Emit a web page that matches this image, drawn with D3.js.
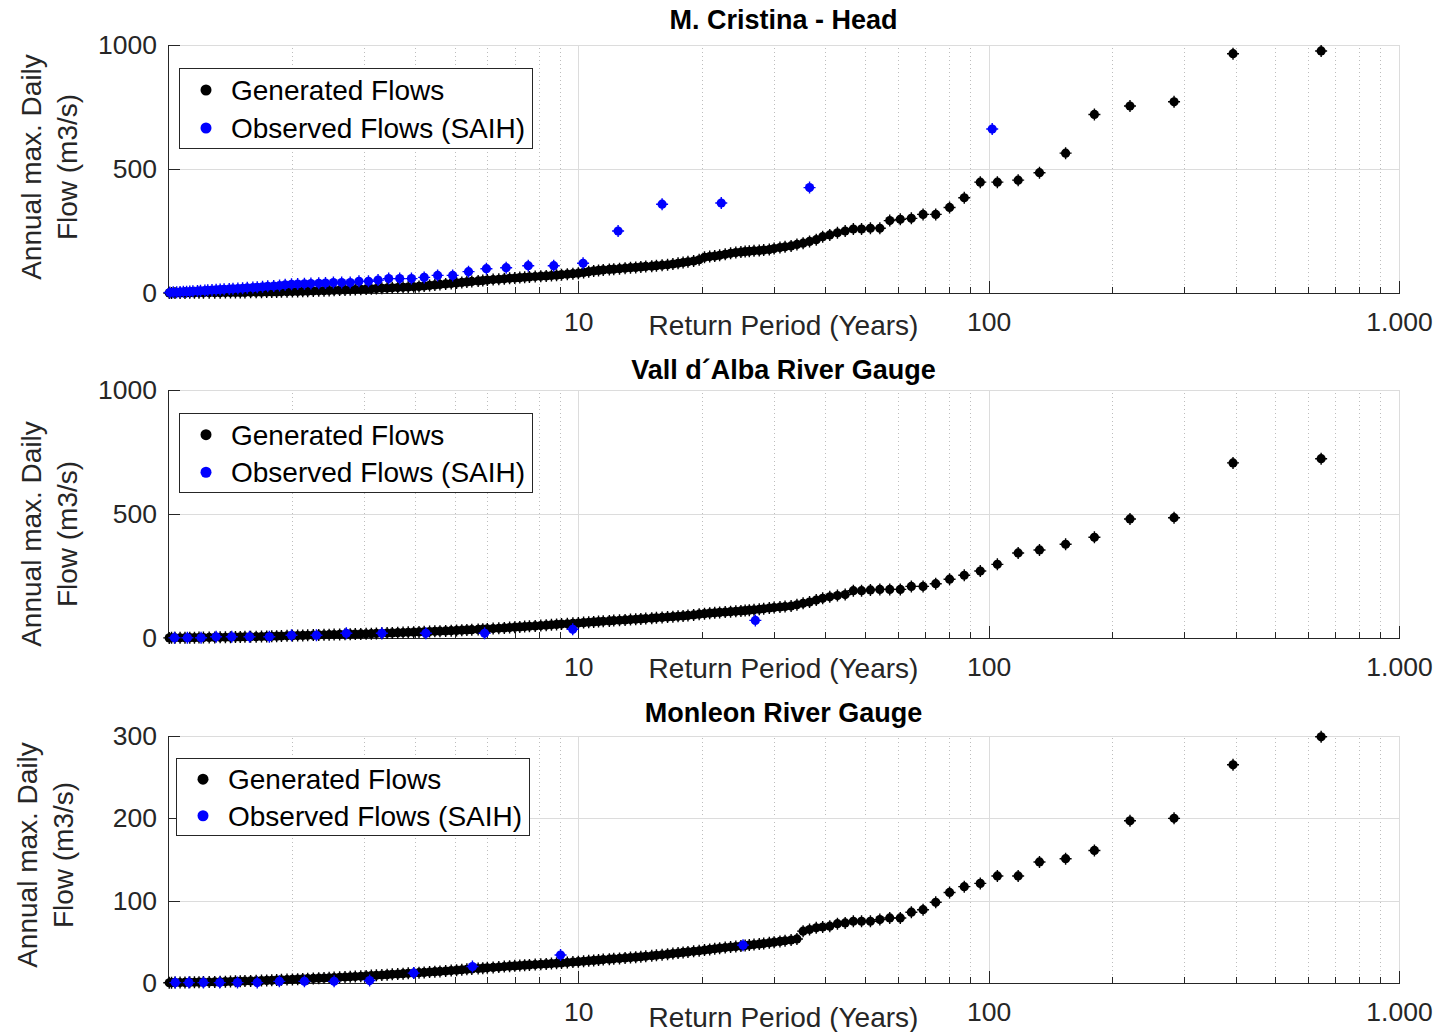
<!DOCTYPE html>
<html>
<head>
<meta charset="utf-8">
<script src="https://cdn.jsdelivr.net/npm/d3@7"></script>
<style>
  body { margin: 0; background: #fff; }
  svg { display: block; }
</style>
</head>
<body>
<div id="chart"></div>
<script>
// Périodes de retour (années) des débits générés, communes aux trois stations
const returnPeriod = [
  1.007, 1.02, 1.04, 1.07, 1.1, 1.13, 1.16, 1.19, 1.22, 1.26,
  1.3, 1.34, 1.38, 1.42, 1.46, 1.5, 1.54, 1.59, 1.64, 1.69,
  1.74, 1.79, 1.84, 1.89, 1.95, 2.01, 2.07, 2.13, 2.19, 2.26,
  2.33, 2.4, 2.47, 2.54, 2.62, 2.7, 2.78, 2.86, 2.95, 3.04,
  3.13, 3.22, 3.32, 3.42, 3.52, 3.63, 3.74, 3.85, 3.97, 4.09,
  4.21, 4.34, 4.47, 4.6, 4.75, 4.9, 5.05, 5.2, 5.35, 5.5,
  5.7, 5.85, 6.0, 6.2, 6.4, 6.6, 6.8, 7.0, 7.2, 7.4,
  7.6, 7.85, 8.1, 8.35, 8.6, 8.85, 9.1, 9.4, 9.7, 10.0,
  10.3, 10.6, 10.9, 11.2, 11.5, 11.9, 12.2, 12.6, 13.0, 13.4,
  13.8, 14.2, 14.6, 15.1, 15.5, 16.0, 16.5, 17.0, 17.5, 18.0,
  18.5, 19.1, 19.7, 20.3, 20.9, 21.5, 22.1, 22.8, 23.5, 24.2,
  24.9, 25.5, 26.1, 26.8, 27.6, 28.3, 29.2, 30.0, 31.0, 31.9,
  33.0, 34.1, 35.3, 36.6, 38.0, 39.4, 41.0, 42.8, 44.7, 46.8,
  49.0, 51.5, 54.3, 57.4, 60.9, 64.8, 69.2, 74.3, 80.3, 87.2,
  95.4, 105, 118, 133, 154, 181, 221, 283, 394, 646
];

// Débits générés (m3/s)
const genCristina = [
  0.3, 0.4, 0.4, 0.5, 0.5, 0.6, 0.7, 0.8, 0.9, 1.0,
  1.2, 1.4, 1.6, 1.8, 2.0, 2.2, 2.4, 2.7, 3.0, 3.3,
  3.6, 4.0, 4.4, 4.8, 5.3, 5.8, 6.3, 6.8, 7.4, 8.0,
  8.6, 9.3, 10.0, 10.8, 11.6, 12.4, 13.2, 14.0, 15.0, 16.0,
  17.0, 18.0, 19.0, 20.0, 21.0, 22.0, 23.0, 24.0, 25.0, 26.5,
  28.5, 30.5, 32.5, 34.5, 36.5, 38.5, 40.5, 42.5, 44.5, 46.5,
  48.5, 50.0, 52.0, 54.0, 55.5, 57.0, 59.0, 60.5, 62.0, 63.5,
  65.0, 66.5, 68.0, 69.0, 70.5, 72.0, 74.0, 76.0, 78.0, 80.0,
  83, 86, 89, 91, 93, 95, 96, 98, 100, 102,
  103, 105, 107, 108, 110, 112, 114, 117, 120, 123,
  126, 129, 134, 144, 147, 149, 152, 156, 160, 163,
  165, 167, 168, 170, 171, 173, 175, 179, 183, 186,
  190, 196, 201, 208, 215, 227, 234, 243, 250, 258,
  258, 261, 261, 292, 297, 301, 317, 317, 345, 384,
  447, 447, 455, 485, 564, 720, 754, 771, 965, 976
];

const genVallAlba = [
  0.5, 0.6, 0.7, 0.9, 1.1, 1.3, 1.5, 1.7, 1.9, 2.2,
  2.5, 2.8, 3.1, 3.4, 3.8, 4.2, 4.6, 5.0, 5.5, 6.0,
  6.5, 7.0, 7.5, 8.0, 8.6, 9.2, 9.8, 10.4, 11.0, 11.6,
  12.2, 12.8, 13.3, 13.8, 14.3, 14.8, 15.3, 15.8, 16.3, 16.9,
  17.6, 18.3, 19.0, 19.8, 20.5, 21.3, 22.0, 22.8, 23.6, 24.4,
  25.2, 26.0, 26.8, 27.6, 28.5, 29.4, 30.4, 31.4, 32.4, 33.4,
  34.6, 35.6, 36.6, 38.0, 39.4, 40.8, 42.2, 43.5, 44.8, 46.0,
  47.3, 48.8, 50.3, 51.8, 53.2, 54.6, 56.0, 57.5, 59.0, 60.5,
  62.0, 63.5, 65.0, 66.3, 67.6, 69.0, 70.3, 71.6, 73.0, 74.3,
  75.6, 77.0, 78.5, 80.0, 81.5, 83.0, 84.5, 86.0, 87.5, 89.0,
  91, 93, 96, 98, 100, 101.5, 103, 104.5, 106, 107.5,
  109, 110.5, 112, 113.5, 116, 118, 121, 123, 125, 127,
  129, 134, 140, 145, 153, 160, 166, 171, 175, 191,
  191, 194, 196, 196, 196, 208, 208, 219, 237, 253,
  270, 297, 343, 355, 378, 406, 480, 485, 706, 723
];

const genMonleon = [
  0.3, 0.4, 0.5, 0.6, 0.7, 0.8, 0.9, 1.0, 1.1, 1.2,
  1.3, 1.5, 1.6, 1.8, 2.0, 2.1, 2.3, 2.5, 2.7, 2.9,
  3.1, 3.3, 3.6, 3.8, 4.1, 4.4, 4.7, 5.0, 5.2, 5.5,
  5.8, 6.1, 6.4, 6.7, 7.0, 7.3, 7.6, 7.9, 8.2, 8.6,
  9.0, 9.3, 9.7, 10.1, 10.5, 10.9, 11.3, 11.7, 12.1, 12.5,
  12.9, 13.3, 13.7, 14.1, 14.6, 15.1, 15.6, 16.1, 16.6, 17.1,
  17.6, 18.0, 18.4, 18.9, 19.4, 19.9, 20.4, 20.8, 21.2, 21.6,
  22.0, 22.4, 22.8, 23.2, 23.6, 24.0, 24.4, 24.9, 25.4, 25.9,
  26.4, 26.9, 27.4, 27.9, 28.4, 28.9, 29.4, 29.9, 30.4, 30.9,
  31.4, 31.9, 32.5, 33.1, 33.7, 34.3, 35.0, 35.7, 36.4, 37.1,
  37.8, 38.5, 39.2, 40.0, 40.8, 41.6, 42.3, 43.0, 43.7, 44.3,
  44.9, 45.5, 46.1, 46.7, 47.3, 48.0, 48.8, 49.6, 50.5, 51.3,
  52.2, 53.5, 63, 65, 67, 68, 69, 72, 73, 75,
  75, 75, 77, 79, 79, 86, 89, 98, 110, 117,
  121, 130, 130, 147, 151, 161, 197, 200, 265, 299
];

// Débits observés (SAIH)
const obsCristinaT = [
  1.01, 1.03, 1.05, 1.07, 1.09, 1.11, 1.13, 1.15, 1.18, 1.20,
  1.23, 1.25, 1.28, 1.31, 1.34, 1.37, 1.41, 1.44, 1.48, 1.52,
  1.56, 1.61, 1.65, 1.70, 1.75, 1.81, 1.87, 1.93, 2.00, 2.07,
  2.15, 2.23, 2.33, 2.42, 2.53, 2.65, 2.78, 2.92, 3.08, 3.25,
  3.45, 3.67, 3.92, 4.21, 4.54, 4.94, 5.40, 5.97, 6.67, 7.55,
  8.71, 10.27, 12.5, 16.0, 22.3, 36.6, 102.0
];
const obsCristinaQ = [
  2, 3, 3, 4, 5, 5, 6, 7, 8, 9,
  10, 11, 12, 13, 14, 15, 16, 17, 18, 19,
  21, 22, 23, 25, 27, 28, 30, 33, 35, 36,
  37, 38, 39, 40, 42, 42, 42, 47, 47, 52,
  58, 58, 58, 63, 71, 71, 86, 98, 102, 110,
  110, 120, 250, 358, 363, 425, 661
];

const obsVallAlbaT = [1.037, 1.115, 1.204, 1.31, 1.43, 1.58, 1.766, 2.0, 2.30, 2.72, 3.32, 4.25, 5.91, 9.69, 27.0];
const obsVallAlbaQ = [1, 1, 1, 5, 5, 5, 5, 11, 11, 19, 19, 19, 19, 35, 71];

const obsMonleonT = [1.042, 1.124, 1.22, 1.337, 1.477, 1.65, 1.868, 2.15, 2.54, 3.10, 3.97, 5.52, 9.05, 25.2];
const obsMonleonQ = [0.5, 0.5, 0.5, 0.5, 0.5, 0.5, 2, 2, 2, 3, 12, 20, 34, 46];

const xMajorTicks = [10, 100, 1000];
const legendLabels = ['Generated Flows', 'Observed Flows (SAIH)'];
const yLabelLines = ['Annual max. Daily', 'Flow (m3/s)'];
const xLabelText = 'Return Period (Years)';

const FONT = '"Liberation Sans", Arial, Helvetica, sans-serif';
const AXIS_COLOR = '#262626';
const W = 1449, H = 1032;
const X_LEFT = 168, X_RIGHT = 1399;

const PANELS = [
  { title: 'M. Cristina - Head', top: 45, bottom: 293, yMax: 1000, yTicks: [0, 500, 1000],
    gen: genCristina, obsT: obsCristinaT, obsQ: obsCristinaQ,
    titleY: 29, yLabelX: [41, 77], yLabelY: 167, xLabelDy: 42,
    legend: { x: 179, y: 68, w: 353, h: 80 } },
  { title: 'Vall d\u00B4Alba River Gauge', top: 390, bottom: 638, yMax: 1000, yTicks: [0, 500, 1000],
    gen: genVallAlba, obsT: obsVallAlbaT, obsQ: obsVallAlbaQ,
    titleY: 379, yLabelX: [41, 77], yLabelY: 534, xLabelDy: 40,
    legend: { x: 179, y: 413, w: 353, h: 79 } },
  { title: 'Monleon River Gauge', top: 736, bottom: 983, yMax: 300, yTicks: [0, 100, 200, 300],
    gen: genMonleon, obsT: obsMonleonT, obsQ: obsMonleonQ,
    titleY: 722, yLabelX: [37, 73], yLabelY: 855, xLabelDy: 44,
    legend: { x: 176, y: 758, w: 353, h: 77 } },
];

// Format espagnol pour l'axe X (1.000), entier brut pour l'axe Y
const esLocale = d3.formatLocale({ decimal: ',', thousands: '.', grouping: [3], currency: ['', ' €'] });
const fmtX = esLocale.format(',');
const fmtY = d3.format('d');

const svg = d3.select('#chart').append('svg')
  .attr('width', W).attr('height', H)
  .style('font-family', FONT);

svg.append('rect').attr('width', W).attr('height', H).attr('fill', '#fff');

const x = d3.scaleLog().domain([1, 1000]).range([X_LEFT, X_RIGHT]);
const xMinorTicks = x.ticks().filter(t => !xMajorTicks.includes(t) && t !== 1);

// Marqueur "point" façon MATLAB (disque + petite croix)
function drawMarkers(g, xs, ys, y, color) {
  const pts = xs.map((t, i) => [x(t), y(ys[i])]);
  const m = g.append('g').selectAll('g').data(pts).join('g')
    .attr('transform', d => `translate(${d[0]},${d[1]})`);
  m.append('circle').attr('r', 4.6).attr('fill', color);
  m.append('path').attr('d', 'M-6,0H6M0,-6V6')
    .attr('stroke', color).attr('stroke-width', 1.4);
}

function drawPanel(p) {
  const h = p.bottom - p.top;
  const w = X_RIGHT - X_LEFT;
  const y = d3.scaleLinear().domain([0, p.yMax]).range([p.bottom, p.top]);
  const g = svg.append('g');

  // Grille mineure (pointillés)
  g.append('g').attr('transform', `translate(0,${p.bottom})`)
    .call(d3.axisBottom(x).tickValues(xMinorTicks).tickSize(-h).tickFormat(''))
    .call(a => a.select('.domain').remove())
    .call(a => a.selectAll('line').attr('stroke', '#bdbdbd').attr('stroke-dasharray', '1,3'));

  // Grille majeure
  g.append('g').attr('transform', `translate(0,${p.bottom})`)
    .call(d3.axisBottom(x).tickValues(xMajorTicks).tickSize(-h).tickFormat(''))
    .call(a => a.select('.domain').remove())
    .call(a => a.selectAll('line').attr('stroke', '#dcdcdc').attr('stroke-width', 1.3));

  g.append('g').attr('transform', `translate(${X_LEFT},0)`)
    .call(d3.axisLeft(y).tickValues(p.yTicks.filter(v => v > 0)).tickSize(-w).tickFormat(''))
    .call(a => a.select('.domain').remove())
    .call(a => a.selectAll('line').attr('stroke', '#dcdcdc').attr('stroke-width', 1.3));

  // Axe X
  g.append('g').attr('transform', `translate(0,${p.bottom})`)
    .call(d3.axisBottom(x).tickValues(xMinorTicks).tickSizeInner(-6).tickSizeOuter(0).tickFormat(''))
    .call(a => a.select('.domain').remove())
    .call(a => a.selectAll('line').attr('stroke', AXIS_COLOR));

  g.append('g').attr('transform', `translate(0,${p.bottom})`)
    .call(d3.axisBottom(x).tickValues(xMajorTicks).tickSizeInner(-12).tickSizeOuter(0)
      .tickPadding(19).tickFormat(fmtX))
    .call(a => a.select('.domain').attr('stroke', AXIS_COLOR))
    .call(a => a.selectAll('line').attr('stroke', AXIS_COLOR))
    .call(a => a.selectAll('text').attr('fill', AXIS_COLOR)
      .style('font-size', '26.5px').style('font-family', FONT));

  // Axe Y
  g.append('g').attr('transform', `translate(${X_LEFT},0)`)
    .call(d3.axisLeft(y).tickValues(p.yTicks).tickSizeInner(-12).tickSizeOuter(0)
      .tickPadding(11).tickFormat(fmtY))
    .call(a => a.select('.domain').attr('stroke', AXIS_COLOR))
    .call(a => a.selectAll('line').attr('stroke', AXIS_COLOR))
    .call(a => a.selectAll('text').attr('fill', AXIS_COLOR)
      .style('font-size', '26.5px').style('font-family', FONT));

  g.selectAll('.domain, .tick line').attr('shape-rendering', 'crispEdges');

  // Titres et libellés
  g.append('text').attr('x', (X_LEFT + X_RIGHT) / 2).attr('y', p.titleY)
    .attr('text-anchor', 'middle').attr('font-weight', 'bold')
    .style('font-size', '27px').attr('fill', '#000').text(p.title);

  g.append('text').attr('x', (X_LEFT + X_RIGHT) / 2).attr('y', p.bottom + p.xLabelDy)
    .attr('text-anchor', 'middle').style('font-size', '28px')
    .attr('fill', AXIS_COLOR).text(xLabelText);

  yLabelLines.forEach((line, i) => {
    g.append('text')
      .attr('transform', `translate(${p.yLabelX[i]},${p.yLabelY}) rotate(-90)`)
      .attr('text-anchor', 'middle').style('font-size', '28px')
      .attr('fill', AXIS_COLOR).text(line);
  });

  // Points
  drawMarkers(g, returnPeriod, p.gen, y, '#000');
  drawMarkers(g, p.obsT, p.obsQ, y, '#0000ff');

  // Légende
  const L = p.legend;
  const lg = g.append('g').attr('transform', `translate(${L.x},${L.y})`);
  lg.append('rect').attr('width', L.w).attr('height', L.h)
    .attr('fill', '#fff').attr('stroke', AXIS_COLOR).attr('stroke-width', 1)
    .attr('shape-rendering', 'crispEdges');
  const rowY = [L.h * 0.275, L.h * 0.75];
  ['#000', '#0000ff'].forEach((c, i) => {
    lg.append('circle').attr('cx', 27).attr('cy', rowY[i]).attr('r', 5.5).attr('fill', c);
    lg.append('text').attr('x', 52).attr('y', rowY[i]).attr('dy', '0.35em')
      .style('font-size', '28px').attr('fill', '#000').text(legendLabels[i]);
  });
}

PANELS.forEach(drawPanel);
</script>
</body>
</html>
